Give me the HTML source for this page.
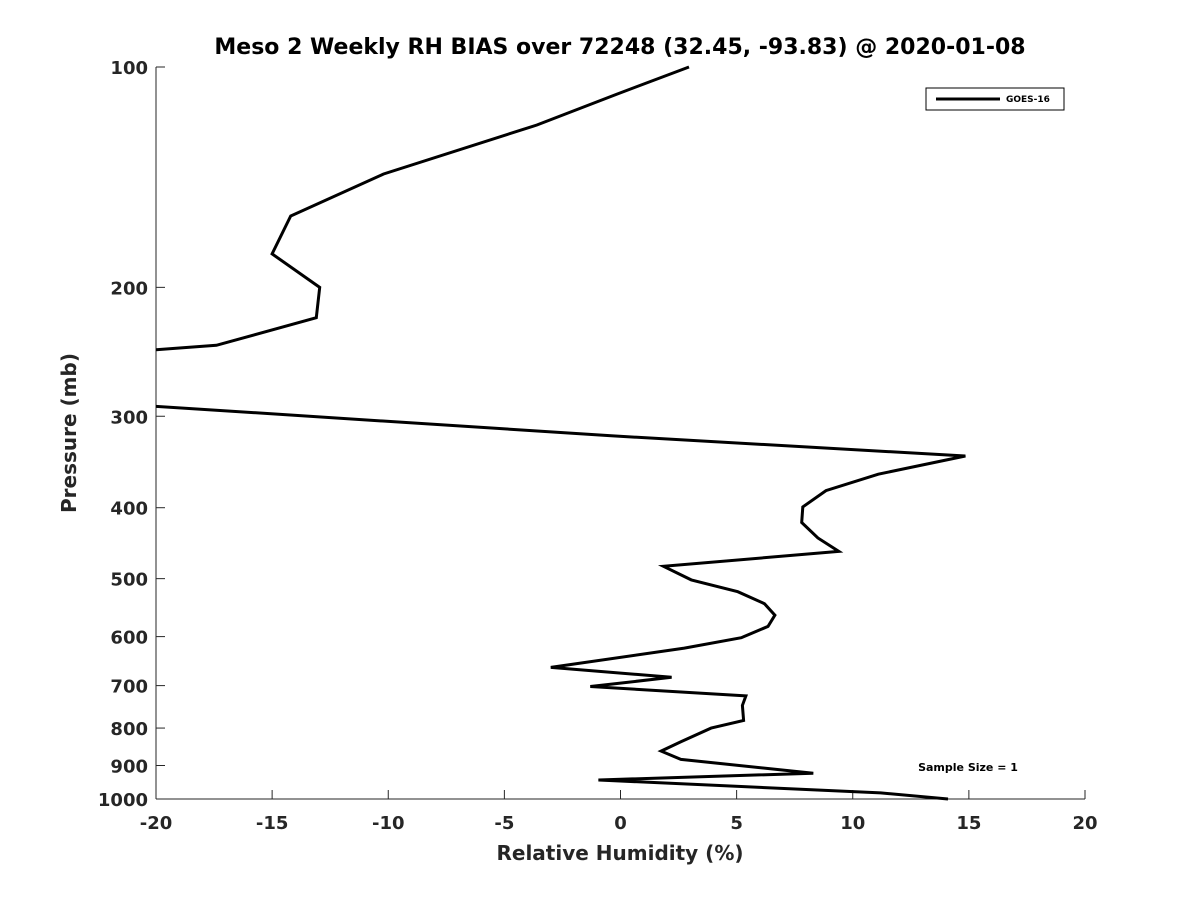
<!DOCTYPE html>
<html><head><meta charset="utf-8"><style>
body{margin:0;background:#fff;}
svg{font-family:"DejaVu Sans","Liberation Sans",sans-serif;font-weight:bold;}
</style></head><body>
<svg id="chart" width="1200" height="900" viewBox="0 0 1200 900" xmlns="http://www.w3.org/2000/svg">
<defs><clipPath id="plotclip"><rect x="156" y="60" width="935" height="745"/></clipPath></defs>
<rect width="1200" height="900" fill="#fff"/>
<text x="620" y="54" text-anchor="middle" font-size="22" fill="#000">Meso 2 Weekly RH BIAS over 72248 (32.45, -93.83) @ 2020-01-08</text>
<g id="axes"></g>
<text x="620" y="860" text-anchor="middle" font-size="20" fill="#262626">Relative Humidity (%)</text>
<text transform="translate(76,433) rotate(-90)" text-anchor="middle" font-size="20" fill="#262626">Pressure (mb)</text>
<g>
<rect x="926" y="88" width="138" height="22" fill="#fff" stroke="#000" stroke-width="1"/>
<line x1="936" y1="99" x2="1000" y2="99" stroke="#000" stroke-width="3"/>
<text x="1006" y="102" font-size="9" fill="#000">GOES-16</text>
</g>
<text x="968" y="771" text-anchor="middle" font-size="11" fill="#000">Sample Size = 1</text>
</svg>
<script>
const rhValues=[2.95,-0.15,-3.6,-10.2,-14.2,-15.0,-12.95,-13.1,-17.4,-25,-25,-0.4,14.85,11.1,8.85,7.85,7.8,8.5,9.4,1.85,3.05,5.05,6.2,6.65,6.35,5.2,2.75,-3.0,2.2,-1.3,5.4,5.25,5.3,3.9,2.6,1.75,2.6,8.3,-0.95,11.2,14.1];
const pressures=[100,108.9,120,140,159.8,180,200,220,240,250,284,319,340,360,379,399,419,440,459,481,502,521,541,561,581,602,622,661,682,702,723,745,781,800,835,860,883,922,942,981,1000];
const xTicks=[-20,-15,-10,-5,0,5,10,15,20];
const yTicks=[100,200,300,400,500,600,700,800,900,1000];
const NS='http://www.w3.org/2000/svg';
const L=156,R=1085,T=67,B=799;
function xs(v){return L+(v+20)/40*(R-L);}
function ys(p){return T+Math.log10(p/100)*(B-T);}
const svg=document.getElementById('chart');
const g=document.getElementById('axes');
function mk(tag,attrs,parent){const e=document.createElementNS(NS,tag);for(const k in attrs)e.setAttribute(k,attrs[k]);(parent||g).appendChild(e);return e;}
const xa=mk('line',{x1:L,y1:B,x2:R,y2:B,stroke:'#262626','stroke-width':1});


const ya=mk('line',{x1:L,y1:T,x2:L,y2:B,stroke:'#262626','stroke-width':1});


xTicks.forEach(v=>{const x=xs(v);
 mk('line',{x1:x,y1:B,x2:x,y2:B-9,stroke:'#262626'});
 const t=mk('text',{x:x,y:B+30,'text-anchor':'middle','font-size':18,fill:'#262626'});
 
 
 t.textContent=v;});
yTicks.forEach(p=>{const y=ys(p);
 mk('line',{x1:L,y1:y,x2:L+9,y2:y,stroke:'#262626'});
 const t=mk('text',{x:L-8,y:y+7,'text-anchor':'end','font-size':18,fill:'#262626'});
 
 
 t.textContent=p;});
const pts=rhValues.map((v,i)=>xs(v).toFixed(1)+','+ys(pressures[i]).toFixed(1)).join(' ');
const line=mk('polyline',{points:pts,fill:'none',stroke:'#000','stroke-width':3,'stroke-linejoin':'miter','clip-path':'url(#plotclip)'},svg);


</script>
</body></html>
